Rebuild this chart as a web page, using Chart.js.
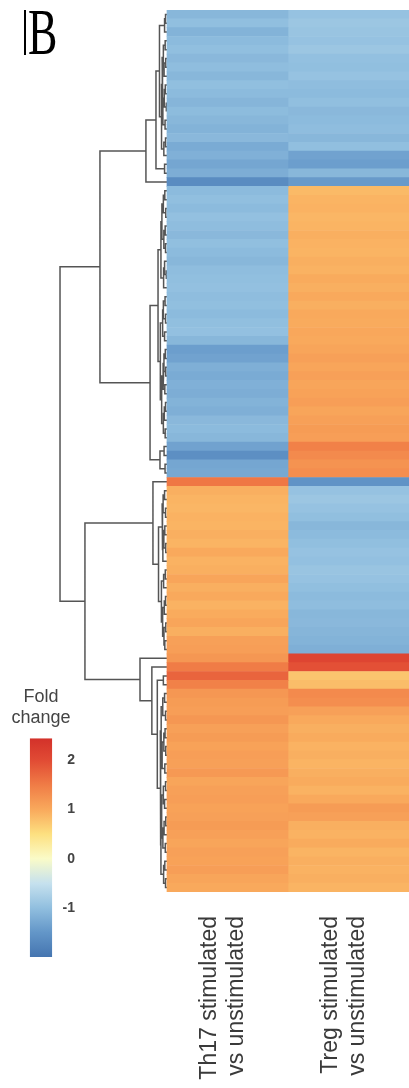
<!DOCTYPE html>
<html>
<head>
<meta charset="utf-8">
<script src="https://cdn.jsdelivr.net/npm/chart.js@4.4.1/dist/chart.umd.min.js"></script>
<style>
  html, body { margin: 0; padding: 0; background: #fff; }
  #wrap { position: relative; width: 409px; height: 1088px; overflow: hidden; }
  #heat { position: absolute; left: 0; top: 0; }
  #scale { position: absolute; left: 0; top: 680px; }
  #panel {
    position: absolute; left: 24px; top: 10px;
    font: 44px "Liberation Serif", "Times New Roman", serif;
    line-height: 30px; padding-left: 2px;
    border-left: 2px solid #000;
    transform: scale(1, 1.5); transform-origin: 0 0;
  }
</style>
</head>
<body>
<div id="wrap">
  <canvas id="heat" width="409" height="1088"></canvas>
  <canvas id="scale" width="82" height="290"></canvas>
  <div id="panel">B</div>
</div>
<script>
// column labels (x axis)
const columnLabels = [['Th17 stimulated', 'vs unstimulated'], ['Treg stimulated', 'vs unstimulated']];

// fold change per gene row, top to bottom (dendrogram order)
const th17 = [
  -1.10, -1.00, -1.15, -1.05, -1.00, -1.08, -1.02, -1.10, -1.00, -1.05,
  -1.12, -1.04, -1.10, -1.15, -1.08, -1.25, -1.18, -1.30, -1.22, -1.65,
  -1.05, -1.00, -1.05, -0.98, -1.02, -1.08, -1.00, -1.05, -1.10, -1.02,
  -1.00, -0.98, -1.02, -1.00, -1.05, -1.00, -0.98, -1.10, -1.40, -1.35,
  -1.20, -1.25, -1.18, -1.22, -1.15, -1.20, -1.08, -1.05, -1.10, -1.35,
  -1.60, -1.30, -1.28,
  1.55, 0.95, 0.90, 0.88, 0.92, 0.90, 0.95, 0.90, 1.00, 0.92,
  0.95, 1.05, 0.95, 1.00, 0.92, 0.98, 1.05, 0.95, 1.10, 1.12,
  1.20, 1.50, 1.75, 1.45, 1.20, 1.15, 1.12, 1.20, 1.10, 1.15,
  1.08, 1.12, 1.10, 1.18, 1.05, 1.10, 1.12, 1.08, 1.10, 1.15,
  1.10, 1.05, 1.10, 1.08, 1.12, 1.05, 1.00
];
const treg = [
  -0.95, -0.90, -0.92, -0.95, -0.90, -0.98, -1.00, -0.95, -1.02, -1.05,
  -1.00, -1.08, -1.05, -1.02, -1.10, -1.00, -1.35, -1.40, -1.10, -1.45,
  0.85, 0.90, 0.92, 0.88, 0.90, 0.95, 0.92, 0.90, 0.95, 0.92,
  0.98, 0.95, 1.00, 0.95, 1.00, 0.98, 1.02, 1.00, 1.05, 1.10,
  1.05, 1.10, 1.05, 1.08, 1.12, 1.05, 1.10, 1.15, 1.12, 1.45,
  1.35, 1.25, 1.30,
  -1.55, -0.95, -0.90, -0.95, -1.00, -1.10, -1.05, -1.00, -0.95, -0.98,
  -0.92, -0.95, -1.00, -1.05, -1.02, -1.10, -1.08, -1.12, -1.15, -1.20,
  2.10, 1.95, 0.75, 0.82, 1.35, 1.30, 1.10, 1.00, 0.95, 0.98,
  0.92, 0.95, 0.90, 0.95, 0.98, 0.92, 1.00, 1.15, 1.10, 0.95,
  0.92, 0.98, 0.90, 0.95, 0.92, 0.95, 0.90
];

// height at which row i joins row i+1 in the row dendrogram
const joinHeights = [
  0.012, 0.020, 0.062, 0.015, 0.030, 0.010, 0.024, 0.040, 0.014, 0.022,
  0.008, 0.034, 0.016, 0.045, 0.012, 0.026, 0.091, 0.020, 0.174, 0.554,
  0.018, 0.030, 0.010, 0.042, 0.015, 0.026, 0.012, 0.050, 0.020, 0.008,
  0.028, 0.074, 0.016, 0.030, 0.012, 0.036, 0.020, 0.055, 0.014, 0.025,
  0.010, 0.032, 0.018, 0.044, 0.012, 0.022, 0.030, 0.015, 0.140, 0.024,
  0.058, 0.016, 0.884, 0.116, 0.020, 0.032, 0.012, 0.040, 0.018, 0.026,
  0.010, 0.034, 0.070, 0.014, 0.028, 0.046, 0.012, 0.022, 0.036, 0.010,
  0.025, 0.018, 0.678, 0.223, 0.125, 0.030, 0.080, 0.020, 0.035, 0.012,
  0.048, 0.016, 0.026, 0.010, 0.040, 0.018, 0.055, 0.012, 0.030, 0.020,
  0.044, 0.010, 0.024, 0.034, 0.014, 0.050, 0.018, 0.028, 0.012
];

// colour key
const legendStops = [-2, -1.5, -1, -0.5, 0, 0.5, 1, 1.5, 2, 2.45];
const legendColors = ['#4575b0', '#6396c8', '#91bfdf', '#c6e1ee', '#fafbc8',
                      '#fde080', '#f9a95c', '#f07c46', '#e14b34', '#d3312a'];
const legendTicks = [-1, 0, 1, 2];

Chart.defaults.font.family = "'Liberation Sans', Arial, Helvetica, sans-serif";

function hexToRgb(h) {
  return [1, 3, 5].map(i => parseInt(h.slice(i, i + 2), 16));
}

function colorFor(v) {
  if (v <= legendStops[0]) return legendColors[0];
  for (let i = 1; i < legendStops.length; i++) {
    if (v <= legendStops[i]) {
      const t = (v - legendStops[i - 1]) / (legendStops[i] - legendStops[i - 1]);
      const a = hexToRgb(legendColors[i - 1]), b = hexToRgb(legendColors[i]);
      const c = a.map((x, k) => Math.round(x + (b[k] - x) * t));
      return `rgb(${c[0]},${c[1]},${c[2]})`;
    }
  }
  return legendColors[legendColors.length - 1];
}

// walk the dendrogram: split each row range at its highest join
function buildTree(lo, hi, pts) {
  if (lo === hi) return { y: lo + 0.5, h: 0 };
  let k = lo;
  for (let i = lo; i < hi; i++) {
    if (joinHeights[i] > joinHeights[k]) k = i;
  }
  const a = buildTree(lo, k, pts);
  const b = buildTree(k + 1, hi, pts);
  const h = joinHeights[k];
  pts.push({ x: -a.h, y: a.y }, { x: -h, y: a.y }, { x: -h, y: b.y }, { x: -b.h, y: b.y }, { x: null, y: null });
  return { y: (a.y + b.y) / 2, h: h };
}

const dendroPoints = [];
buildTree(0, th17.length - 1, dendroPoints);

function heatColumn(values, col) {
  return {
    type: 'bar',
    indexAxis: 'y',
    data: values.map((v, i) => ({ y: i + 0.5, x: [col, col + 1] })),
    backgroundColor: values.map(colorFor),
    borderWidth: 0,
    barPercentage: 1,
    categoryPercentage: 1,
    grouped: false
  };
}

new Chart(document.getElementById('heat'), {
  type: 'bar',
  data: {
    datasets: [
      heatColumn(th17, 0),
      heatColumn(treg, 1),
      {
        type: 'scatter',
        data: dendroPoints,
        showLine: true,
        borderColor: '#555',
        borderWidth: 1.5,
        pointRadius: 0,
        spanGaps: false,
        tension: 0
      }
    ]
  },
  options: {
    responsive: false,
    animation: false,
    layout: { padding: { top: 10, left: 0, right: 0, bottom: 0 } },
    plugins: { legend: { display: false }, tooltip: { enabled: false } },
    scales: {
      x: {
        type: 'linear',
        min: -1.38,
        max: 2,
        offset: false,
        grid: { display: false, drawTicks: false },
        border: { display: false },
        afterBuildTicks: s => { s.ticks = columnLabels.map((_, i) => ({ value: i + 0.5 })); },
        afterFit: s => {
          s.height = 196;
          s.paddingLeft = 0;
          s.paddingRight = 0;
        },
        ticks: {
          autoSkip: false,
          minRotation: 90,
          maxRotation: 90,
          padding: 24,
          labelOffset: -18,
          color: '#3a3a3a',
          font: { size: 23 },
          callback: (v, i) => columnLabels[i]
        }
      },
      y: {
        type: 'linear',
        reverse: true,
        min: 0,
        max: th17.length,
        offset: false,
        display: false
      }
    }
  }
});

// colour key
new Chart(document.getElementById('scale'), {
  type: 'bar',
  data: {
    labels: [''],
    datasets: [{
      data: [[legendStops[0], legendStops[legendStops.length - 1]]],
      borderWidth: 0,
      barPercentage: 0.27,
      categoryPercentage: 1,
      backgroundColor: ctx => {
        const chart = ctx.chart;
        const y = chart.scales.y;
        if (!chart.chartArea || !y) return legendColors[0];
        const lo = legendStops[0], hi = legendStops[legendStops.length - 1];
        const g = chart.ctx.createLinearGradient(0, y.getPixelForValue(lo), 0, y.getPixelForValue(hi));
        legendStops.forEach((s, i) => g.addColorStop((s - lo) / (hi - lo), legendColors[i]));
        return g;
      }
    }]
  },
  options: {
    responsive: false,
    animation: false,
    layout: { padding: { top: 6, bottom: 13, left: 0, right: 0 } },
    plugins: {
      legend: { display: false },
      tooltip: { enabled: false },
      title: {
        display: true,
        text: ['Fold', 'change'],
        color: '#444',
        font: { size: 18, weight: 'normal', lineHeight: 1.2 },
        padding: { top: 0, bottom: 9 }
      }
    },
    scales: {
      x: { display: false },
      y: {
        position: 'right',
        min: legendStops[0],
        max: legendStops[legendStops.length - 1],
        afterBuildTicks: s => { s.ticks = legendTicks.map(v => ({ value: v })); },
        afterFit: s => { s.width = 0; },
        grid: { display: false, drawTicks: false },
        border: { display: false },
        ticks: { mirror: true, padding: -7, color: '#444', font: { size: 14, weight: 'bold' } }
      }
    }
  }
});
</script>
</body>
</html>
